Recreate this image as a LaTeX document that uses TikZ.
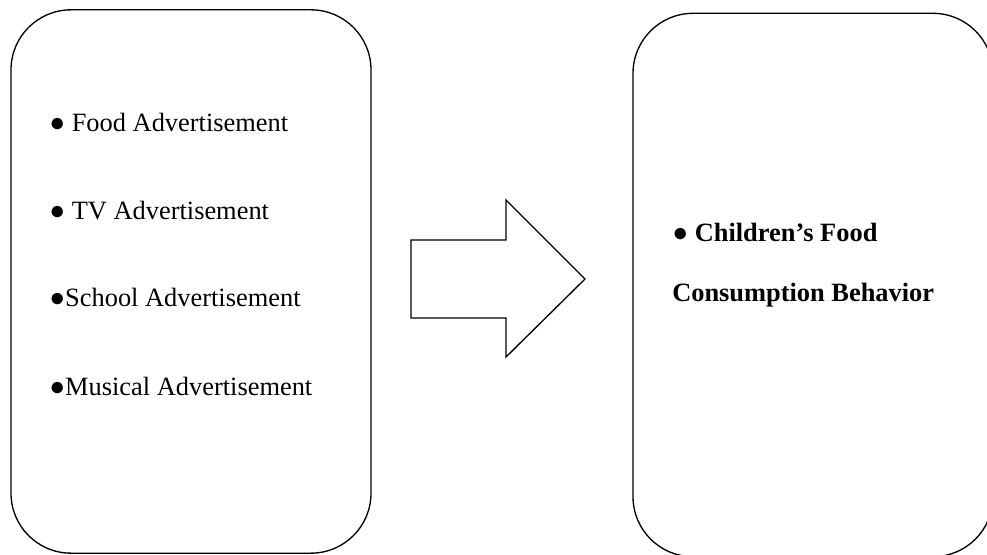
\documentclass[tikz,border=0pt]{standalone}
\usepackage{fontspec}
\setmainfont{Liberation Serif}

\begin{document}
\begin{tikzpicture} [
                x=0.75pt, y=-0.75pt,
                panel/.style={draw,line width=1pt,rounded corners=45pt,minimum width=270pt,minimum height=407.5pt,inner sep=0pt},
                item/.style={anchor=base west,inner sep=0pt,font=\fontsize{19.8}{24}\selectfont},
                bolditem/.style={item,font=\fontsize{19.8}{24}\selectfont\bfseries},
                bigarrow/.style={draw,line width=1pt,line join=miter},
            ]
            \useasboundingbox (0,0) rectangle (987,555);
            \clip (0,0) rectangle (987,555);
            \node[panel] (causes) at (191,281.5) {};
            \node[panel] (effect) at (813,285) {};
            \foreach \y/\name/\txt in {
                    132/food/{● Food Advertisement}, 220/tv/{● TV Advertisement},
                    307/school/{●School Advertisement}, 395/musical/{●Musical Advertisement}}
                \node[item] (\name) at (49,\y) {\txt};
            \node[bolditem] (children) at (672,242) {● Children’s Food};
            \node[bolditem] (consumption) at (672,302) {Consumption Behavior};
            \path[bigarrow] (411,240) -- (506,240) -- (506,200) -- (585,279)
                -- (506,357) -- (506,318) -- (411,318) -- cycle;
        \end{tikzpicture}
\end{document}
